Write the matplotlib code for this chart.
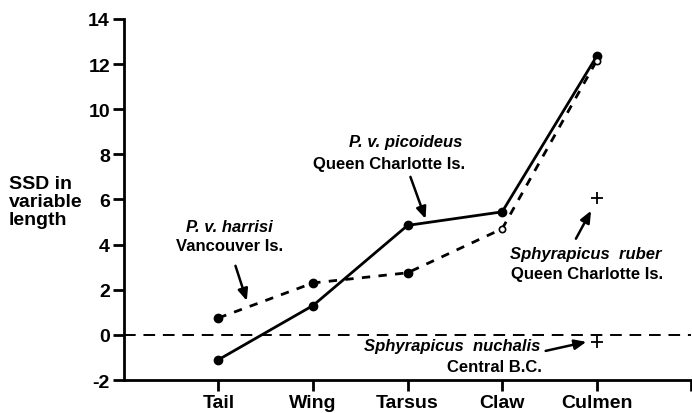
import matplotlib.pyplot as plt
import numpy as np

plt.rcParams['font.family'] = ['Liberation Sans', 'DejaVu Sans']
plt.rcParams['font.weight'] = 'bold'
plt.rcParams['axes.unicode_minus'] = False

variables = ['Tail', 'Wing', 'Tarsus', 'Claw', 'Culmen']
picoideus = [-1.1, 1.3, 4.85, 5.45, 12.35]
harrisi = [0.75, 2.3, 2.75, 4.7, 12.15]
ruber_culmen = 6.05
nuchalis_culmen = -0.3

x = np.arange(1, len(variables) + 1)

fig = plt.figure(figsize=(6.92, 4.14), dpi=100)
ax = fig.add_axes([0.179, 0.0797, 0.82, 0.8723])

# reference line at zero
ax.axhline(0, color='black', lw=1.4, ls=(0, (6, 4)))

ax.plot(x, picoideus, '-', color='black', lw=2, marker='o', ms=6, zorder=3)
ax.plot(x, harrisi, color='black', lw=2, ls=(0, (3, 3)), zorder=2)
ax.plot(x[:3], harrisi[:3], 'o', color='black', ms=6, zorder=3)
ax.plot(x[3:], harrisi[3:], 'o', mfc='white', mec='black', mew=1.2, ms=4.5,
        zorder=4)
ax.plot(x[4], ruber_culmen, '+', color='black', ms=8, mew=1.3)
ax.plot(x[4], nuchalis_culmen, '+', color='black', ms=8, mew=1.3)

ax.set_xlim(0, 6)
ax.set_ylim(-2, 14)
ax.set_xticks(list(x) + [6])
ax.set_xticklabels(variables + [''])
ax.set_yticks(np.arange(-2, 15, 2))
ax.spines['top'].set_visible(False)
ax.spines['right'].set_visible(False)
ax.spines['left'].set_linewidth(2)
ax.spines['bottom'].set_linewidth(2)
ax.tick_params(axis='both', width=2, length=8, labelsize=14, pad=2)
for lab in ax.get_xticklabels() + ax.get_yticklabels():
    lab.set_fontweight('bold')

fig.text(0.013, 0.51, 'SSD in\nvariable\nlength', fontsize=14,
         fontweight='bold', ha='left', va='center', linespacing=1.08)

kw = dict(fontsize=12, ha='center', va='center', fontweight='bold')
arrow = dict(arrowstyle='-|>,head_length=0.7,head_width=0.3', color='black',
             lw=1.8, shrinkA=0, shrinkB=0)

ax.text(1.12, 4.79, 'P. v. harrisi', style='italic', **kw)
ax.text(1.12, 3.95, 'Vancouver Is.', **kw)
ax.annotate('', xy=(1.30, 1.51), xytext=(1.18, 3.06), arrowprops=arrow)

ax.text(2.98, 8.55, 'P. v. picoideus', style='italic', **kw)
ax.text(2.80, 7.58, 'Queen Charlotte Is.', **kw)
ax.annotate('', xy=(3.19, 5.14), xytext=(3.03, 7.0), arrowprops=arrow)

ax.text(4.88, 3.59, 'Sphyrapicus  ruber', style='italic', **kw)
ax.text(4.90, 2.70, 'Queen Charlotte Is.', **kw)
ax.annotate('', xy=(4.94, 5.50), xytext=(4.78, 4.26), arrowprops=arrow)

ax.text(3.47, -0.49, 'Sphyrapicus  nuchalis', style='italic', **kw)
ax.text(3.92, -1.42, 'Central B.C.', **kw)
ax.annotate('', xy=(4.89, -0.31), xytext=(4.46, -0.71), arrowprops=arrow)

fig.savefig('out.png', dpi=100)
